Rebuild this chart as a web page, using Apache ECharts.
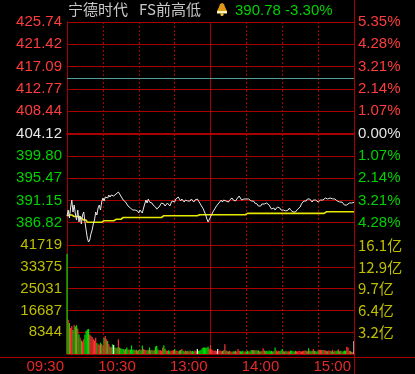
<!DOCTYPE html>
<html><head><meta charset="utf-8">
<script src="https://cdn.jsdelivr.net/npm/echarts@6/dist/echarts.min.js"></script>
<style>html,body{margin:0;padding:0;background:#000;}#c{width:415px;height:374px;}</style>
</head><body><div id="c"></div>
<script>
const stockName = '宁德时代';
const indicatorName = 'FS前高低';
const lastInfo = '390.78 -3.30%';
const prevClose = 404.12;
const priceStep = 4.324;
const prevHigh = 414.83;
const volMax = 41719;

const priceTicks = ['425.74','421.42','417.09','412.77','408.44','404.12','399.80','395.47','391.15','386.82'];
const pctTicks = ['5.35%','4.28%','3.21%','2.14%','1.07%','0.00%','1.07%','2.14%','3.21%','4.28%'];
const volTicks = ['8344','16687','25031','33375','41719'];
const amtTicks = ['3.2亿','6.4亿','9.7亿','12.9亿','16.1亿'];
const timeTicks = ['09:30','10:30','13:00','14:00','15:00'];

const price = [
388.12,389.28,387.73,389.67,391.22,388.90,390.25,388.51,387.34,389.28,
386.96,388.12,386.57,388.31,388.90,386.96,385.40,383.85,383.08,383.47,
384.63,385.40,386.57,387.34,388.90,388.31,389.67,390.25,389.28,390.83,
391.61,391.03,391.80,392.00,391.61,392.19,391.80,392.19,392.00,392.00,
391.80,392.39,392.19,392.77,392.39,392.00,391.80,391.22,391.42,390.83,
390.45,390.06,390.25,389.67,389.47,389.28,389.09,389.28,388.90,389.09,
388.70,389.28,389.09,388.70,389.67,390.45,391.22,390.64,391.42,390.83,
390.45,390.64,390.25,390.45,389.87,389.47,389.28,389.87,390.25,390.64,
390.83,390.45,390.06,390.25,390.64,390.45,390.06,390.64,391.03,391.22,
390.83,391.42,391.61,391.80,391.42,391.03,391.42,391.22,390.83,391.22,
391.42,391.03,391.22,391.03,391.42,391.22,390.83,391.22,391.42,391.42,
391.22,390.64,390.25,389.87,389.47,388.90,388.31,387.54,386.96,387.34,
387.93,388.31,388.90,389.28,389.67,390.06,390.06,390.64,390.83,391.22,
390.83,391.22,391.42,391.03,391.22,390.83,391.22,391.42,391.61,391.22,
391.42,391.03,391.42,391.61,392.00,391.61,391.22,391.03,391.42,391.61,
391.42,391.22,391.42,391.22,391.03,390.83,391.03,390.64,390.83,390.45,
390.06,390.25,390.06,390.45,390.64,390.45,390.83,390.64,390.45,390.25,
389.87,389.47,389.28,389.67,389.28,389.47,389.87,390.06,389.67,389.28,
389.09,389.28,388.90,389.09,388.90,389.28,389.67,389.28,389.09,388.90,
389.09,388.90,389.09,389.47,389.67,389.87,390.45,390.64,391.03,391.22,
391.03,391.42,391.22,391.42,391.22,390.83,391.22,391.03,391.22,391.03,
390.83,391.03,391.22,391.42,391.22,391.42,391.61,391.64,391.42,391.45,
391.61,391.42,391.45,391.22,391.42,391.22,391.03,391.06,390.83,390.64,
390.83,390.64,390.25,390.06,390.25,390.45,390.64,390.45,390.64,390.78,
390.78];

const avgPrice = [
388.18,388.31,388.31,388.31,388.31,388.31,388.02,388.02,388.02,388.02,
388.02,387.73,387.73,387.73,387.34,387.34,387.34,386.90,386.90,386.90,
386.90,386.90,386.90,386.90,386.90,386.90,386.90,386.90,386.90,386.90,
386.90,387.21,387.21,387.21,387.21,387.21,387.21,387.21,387.21,387.21,
387.21,387.48,387.48,387.48,387.48,387.48,387.48,387.83,387.83,387.83,
387.83,387.83,387.83,387.83,387.83,387.83,387.83,387.83,387.83,387.83,
387.83,387.83,387.83,387.83,387.83,387.83,387.83,387.83,387.83,387.83,
387.83,387.83,387.83,387.83,387.83,387.83,387.83,387.83,387.83,387.83,
387.83,388.18,388.18,388.18,388.18,388.18,388.18,388.18,388.18,388.18,
388.18,388.18,388.18,388.18,388.18,388.18,388.18,388.18,388.18,388.18,
388.18,388.18,388.18,388.18,388.18,388.18,388.18,388.18,388.18,388.18,
388.37,388.37,388.37,388.37,388.37,388.37,388.37,388.37,388.37,388.37,
388.37,388.37,388.37,388.37,388.37,388.37,388.37,388.37,388.37,388.37,
388.37,388.37,388.37,388.37,388.37,388.37,388.37,388.37,388.37,388.37,
388.37,388.37,388.37,388.37,388.37,388.37,388.37,388.37,388.37,388.37,
388.37,388.64,388.64,388.64,388.64,388.64,388.64,388.64,388.64,388.64,
388.64,388.64,388.64,388.64,388.64,388.64,388.64,388.64,388.64,388.64,
388.64,388.64,388.64,388.64,388.64,388.64,388.64,388.64,388.64,388.64,
388.64,388.64,388.64,388.64,388.64,388.64,388.64,388.64,388.64,388.64,
388.64,388.64,388.64,388.64,388.64,388.64,388.64,388.64,388.64,388.64,
388.64,388.64,388.64,388.64,388.64,388.64,388.64,388.64,388.64,388.64,
388.64,388.64,388.64,388.64,388.64,388.64,388.64,388.94,388.94,388.94,
388.94,388.94,388.94,388.94,388.94,388.94,388.94,388.94,388.94,388.94,
388.94,388.94,388.94,388.94,388.94,388.94,388.94,388.94,388.94,388.94,
388.94];

const volume = [
38360,13070,11840,9970,10720,9220,11090,10500,11000,9800,
7470,6200,5120,4800,5600,7470,8850,9340,9600,7470,
6980,6500,5600,5200,6240,4200,3740,3500,4370,3800,
3140,6240,6870,5600,5000,3740,2760,2600,3740,3400,
2500,2300,2500,5600,2500,2200,1870,1900,1700,1870,
2500,1750,1600,1750,3250,1500,1700,1400,1600,1300,
1500,1700,1400,3250,1900,1600,1500,1300,1500,2500,
1400,1600,1200,1500,2880,3140,1700,1300,1500,1200,
2500,3370,2000,1300,1200,1400,1100,1300,1200,1500,
1870,1300,1200,1100,1300,1500,1870,1200,1000,1300,
1100,1200,1000,1300,1100,1200,1000,1300,1100,1870,
1200,1300,1500,2200,2500,2500,2300,2500,2800,2000,
3370,1700,1400,1200,1300,1100,1870,1200,1300,1100,
1200,1400,3740,1300,1100,1000,1200,1000,900,1100,
1000,1200,1000,1870,1200,1100,1000,1200,900,1100,
1000,1300,1100,1000,1500,1400,1500,1300,1500,1200,
1400,1100,1000,1200,2240,1300,1100,1200,1000,1300,
1100,1200,1000,1100,2500,1300,1000,1200,1100,1300,
1870,1100,1000,1200,1000,1100,1000,1300,1200,1100,
1000,1200,1100,1000,1200,1100,1000,1100,1200,1300,
1200,1100,2240,1300,1100,1200,1870,1200,1100,1000,
1200,1500,1600,1500,1400,1500,1300,1200,1100,1300,
1200,1100,1600,1000,1200,1100,1300,1750,1100,1200,
1000,1100,1300,1200,2760,2500,1200,1100,900,700,
5000];

const minutes = price.map((_, i) => i);
const toStep = p => +((p - prevClose) / priceStep).toFixed(4);

const RED = '#ff3232', GREEN = '#00e000', GRID = '#a80000';
const FONT = "'Liberation Sans', 'Noto Sans CJK SC', sans-serif";
const CJK = "'Noto Sans CJK SC', 'Liberation Sans', sans-serif";
const volStep = volMax / 5;

function sideColor(v) { v = Number(v); return v > 0.01 ? '#ff3c3c' : (v < -0.01 ? '#00d200' : '#e6e6e6'); }
const dotted = { show: true, interval: (i) => i % 30 === 0 && i !== 0 && i !== 120 && i !== 240, lineStyle: { color: GRID, type: [2, 2], width: 1 } };
const solidMid = { show: true, interval: (i) => i === 120, lineStyle: { color: GRID, type: 'solid', width: 1 } };

const chart = echarts.init(document.getElementById('c'), null, { renderer: 'canvas' });
chart.setOption({
  backgroundColor: '#000',
  animation: false,
  title: [
    { text: stockName, left: 68, top: 2, padding: 0, textStyle: { color: '#c8c8c8', fontSize: 15, fontWeight: 'normal', fontFamily: CJK } },
    { text: indicatorName, left: 139, top: 2, padding: 0, textStyle: { color: '#c8c8c8', fontSize: 15, fontWeight: 'normal', fontFamily: CJK } },
    { text: lastInfo, left: 235, top: 3, padding: 0, textStyle: { color: '#00d200', fontSize: 15, fontWeight: 'normal', fontFamily: FONT } }
  ],
  grid: [
    { left: 67, top: 22, width: 287, height: 223, show: false },
    { left: 67, top: 245, width: 287, height: 112, show: false }
  ],
  xAxis: [
    { type: 'category', gridIndex: 0, data: minutes, boundaryGap: false, axisTick: { show: false }, axisLabel: { show: false },
      axisLine: { show: true, lineStyle: { color: GRID, width: 2 } }, splitLine: dotted },
    { type: 'category', gridIndex: 0, position: 'top', data: minutes, boundaryGap: false, axisTick: { show: false }, axisLabel: { show: false },
      axisLine: { show: false }, splitLine: solidMid },
    { type: 'category', gridIndex: 1, data: minutes, boundaryGap: false, axisTick: { show: false },
      axisLine: { show: false }, splitLine: dotted,
      axisLabel: { show: true, interval: (i) => i % 60 === 0, align: 'right', margin: 5, padding: [0, 3, 0, 0],
        color: '#e62828', fontSize: 15, fontFamily: FONT,
        formatter: (v, i) => timeTicks[Math.round(i / 60)] || '' } },
    { type: 'category', gridIndex: 1, position: 'top', data: minutes, boundaryGap: false, axisTick: { show: false }, axisLabel: { show: false },
      axisLine: { show: false }, splitLine: solidMid }
  ],
  yAxis: [
    { type: 'value', gridIndex: 0, min: -5, max: 5, interval: 1, position: 'left',
      axisLine: { show: true, lineStyle: { color: GRID } }, axisTick: { show: false },
      splitLine: { show: true, lineStyle: { color: GRID, width: 1 } },
      axisLabel: { margin: 5, fontSize: 15, fontFamily: FONT, color: sideColor,
        formatter: v => (v <= -5 ? '' : priceTicks[5 - Math.round(v)]) } },
    { type: 'value', gridIndex: 0, min: -5, max: 5, interval: 1, position: 'right',
      axisLine: { show: false }, axisTick: { show: false }, splitLine: { show: false },
      axisLabel: { margin: 4, fontSize: 15, fontFamily: FONT, color: sideColor,
        formatter: v => (v <= -5 ? '' : pctTicks[5 - Math.round(v)]) } },
    { type: 'value', gridIndex: 1, min: 0, max: volMax, interval: volStep, position: 'left',
      axisLine: { show: true, lineStyle: { color: GRID } }, axisTick: { show: false },
      splitLine: { show: true, lineStyle: { color: GRID, width: 1 } },
      axisLabel: { margin: 5, fontSize: 15, fontFamily: FONT, color: '#bebe00',
        formatter: v => { const k = Math.round(v / volStep); return k === 0 ? '' : volTicks[k - 1]; } } },
    { type: 'value', gridIndex: 1, min: 0, max: volMax, interval: volStep, position: 'right',
      axisLine: { show: false }, axisTick: { show: false }, splitLine: { show: false },
      axisLabel: { margin: 4, fontSize: 15, fontFamily: CJK, color: '#bebe00',
        formatter: v => { const k = Math.round(v / volStep); return k === 0 ? '' : amtTicks[k - 1]; } } }
  ],
  series: [
    { name: 'avg', type: 'line', xAxisIndex: 0, yAxisIndex: 0, data: avgPrice.map(toStep), showSymbol: false, symbol: 'none',
      lineStyle: { color: '#e8e800', width: 1.6 }, z: 3 },
    { name: 'price', type: 'line', xAxisIndex: 0, yAxisIndex: 0, data: price.map(toStep), showSymbol: false, symbol: 'none',
      lineStyle: { color: '#e8e8e8', width: 1 }, z: 4,
      markLine: { silent: true, symbol: 'none', label: { show: false },
        lineStyle: { color: '#4f9f9f', type: 'solid', width: 1 },
        data: [{ yAxis: toStep(prevHigh) }] } },
    { name: 'vol', type: 'bar', xAxisIndex: 2, yAxisIndex: 2, data: volume, barWidth: '100%', barGap: '0%',
      itemStyle: { color: p => { const i = p.dataIndex; const prev = i === 0 ? prevClose : price[i - 1];
        return price[i] > prev ? RED : (price[i] < prev ? GREEN : '#ffffff'); } } }
  ],
  graphic: [
    { type: 'line', shape: { x1: 0, y1: 357.5, x2: 415, y2: 357.5 }, style: { stroke: GRID, lineWidth: 1 }, z: 10 },
    { type: 'line', shape: { x1: 354.5, y1: 0, x2: 354.5, y2: 374 }, style: { stroke: GRID, lineWidth: 1 }, z: 10 },
    { type: 'polygon', shape: { points: [[222, 3], [220, 4], [219, 7], [217, 11], [227, 11], [225, 7], [224, 4]] }, style: { fill: '#e09a18' }, z: 10 },
    { type: 'rect', shape: { x: 217, y: 11, width: 10, height: 2.5 }, style: { fill: '#fff4b0' }, z: 10 },
    { type: 'circle', shape: { cx: 222, cy: 14.5, r: 1.6 }, style: { fill: '#f0c040' }, z: 10 }
  ]
});
</script></body></html>
